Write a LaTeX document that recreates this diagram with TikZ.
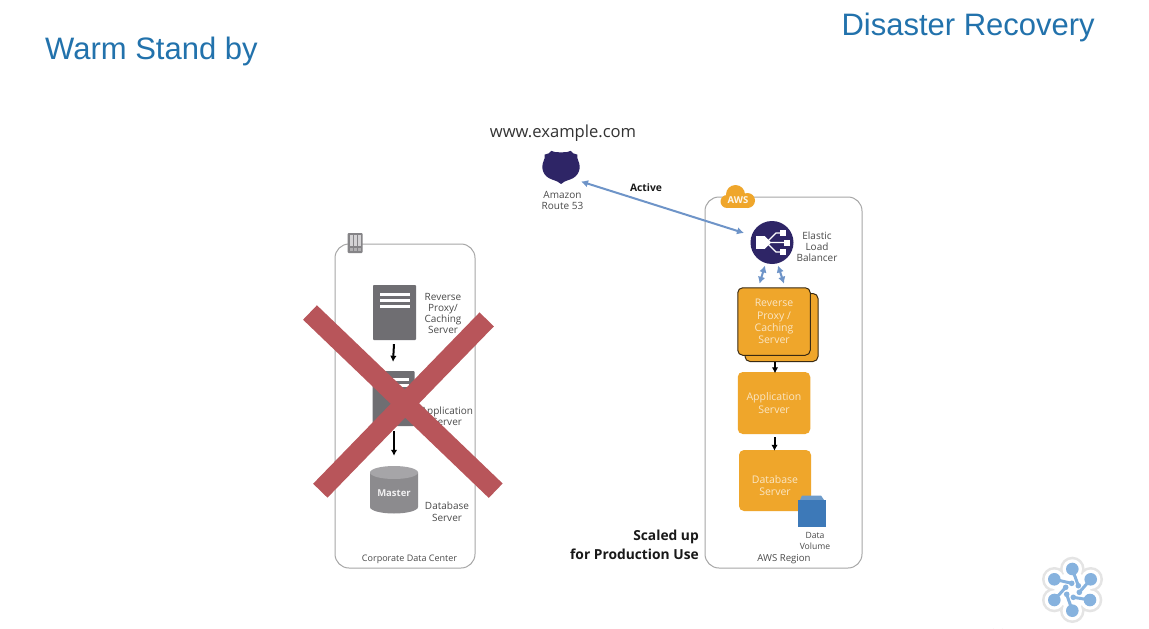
\documentclass[tikz,border=0pt]{standalone}
\usepackage{fontspec}
\setmainfont{Open Sans}
\newfontfamily\titlefont{Liberation Sans}
\usetikzlibrary{arrows.meta}
\definecolor{titleblue}{HTML}{2272AC}
\definecolor{boxline}{HTML}{A6A6A6}
\definecolor{greyicon}{HTML}{6F6E72}
\definecolor{labelgrey}{HTML}{4A4A4A}
\definecolor{awsorange}{HTML}{EFA62B}
\definecolor{orangeedge}{HTML}{3A2A12}
\definecolor{navy}{HTML}{2E2566}
\definecolor{linkblue}{HTML}{6E94C8}
\definecolor{crossred}{HTML}{B8555A}
\definecolor{volblue}{HTML}{3D79B8}
\definecolor{logoblue}{HTML}{86B2DE}
\definecolor{logohalo}{HTML}{E4E4E4}
\tikzset{
  x=1pt,y=-1pt,
  titletext/.style={font=\titlefont\fontsize{31}{34}\selectfont,text=titleblue,inner sep=0pt},
  smalllabel/.style={font=\fontsize{10}{11.2}\selectfont,text=labelgrey,align=center,inner sep=0pt},
  region/.style={draw=boxline,line width=1pt,fill=white,rounded corners=14pt,inner sep=0pt},
  servericon/.style={fill=greyicon,rounded corners=0.8pt,inner sep=0pt},
  orangebox/.style={fill=awsorange,rounded corners=5pt,inner sep=0pt,text=white!72!awsorange,align=center,font=\fontsize{10.5}{12.4}\selectfont},
  orangestack/.style={orangebox,draw=orangeedge,line width=1pt},
  flowarrow/.style={-{Latex[length=6pt,width=6.5pt]},line width=2pt,black},
  linkarrow/.style={{Latex[length=7pt,width=7.5pt]}-{Latex[length=7pt,width=7.5pt]},line width=2pt,linkblue},
  crossbar/.style={crossred,line width=20pt},
  boldlabel/.style={font=\bfseries\fontsize{13.8}{19.2}\selectfont,text=black!90,align=right,inner sep=0pt},
}
\begin{document}
\begin{tikzpicture}
\useasboundingbox (0,0) rectangle (1149,629);
\fill[white] (0,0) rectangle (1149,629);
% titles
\node[titletext,anchor=west] (warm) at (45,51.5) {Warm Stand by};
\node[titletext,anchor=east] (dr) at (1095,27.5) {Disaster Recovery};
% containers
\node[region,minimum width=140pt,minimum height=324pt] (corp) at (405,406) {};
\node[region,minimum width=157pt,minimum height=371pt] (awsreg) at (783.5,382.5) {};
\node[smalllabel,font=\fontsize{9}{11}\selectfont] (corplabel) at (409.5,559.5) {Corporate Data Center};
\node[smalllabel,font=\fontsize{9.6}{11}\selectfont] (awslabel) at (784,559.5) {AWS Region};
% building icon
\node[fill=greyicon!85!white,rounded corners=1pt,minimum width=15pt,minimum height=20pt,inner sep=0pt] (bldg) at (355,243) {};
\foreach \xx in {349.5,353.5,357.5}{
  \fill[white!70!greyicon] (\xx,235) rectangle +(3,11);
  \fill[white!45!greyicon] (\xx,248) rectangle +(3,2.5);
}
% corporate servers
\node[servericon,minimum width=43pt,minimum height=55pt] (proxy) at (394.5,312.5) {};
\foreach \yy in {292.5,298.5,304.5}{\fill[white] (379.5,\yy) rectangle (410,\yy+3.2);}
\node[smalllabel] (proxylabel) at (443,313.5) {Reverse\\Proxy/\\Caching\\Server};
\node[servericon,minimum width=42pt,minimum height=55pt] (app) at (393.5,398.5) {};
\foreach \yy in {378,384,390}{\fill[white] (378.5,\yy) rectangle (409,\yy+3.2);}
\node[smalllabel] (applabel) at (447,416) {Application\\Server};
% master cylinder
\fill[greyicon!80!white] (370,472.5) -- (370,507) arc[start angle=180,end angle=0,x radius=24,y radius=6.5] -- (418,472.5) -- cycle;
\fill[greyicon!62!white] (394,472.5) ellipse[x radius=24,y radius=6.5];
\node[inner sep=0pt,minimum width=48pt,minimum height=48pt] (master) at (394,490) {};
\node[font=\bfseries\fontsize{9.5}{12}\selectfont,text=white!90!greyicon,inner sep=0pt] (mastertext) at (394,493.5) {Master};
\node[smalllabel,font=\fontsize{10}{12}\selectfont] (dblabel) at (447,512) {Database\\Server};
\draw[flowarrow] ([shift={(-0.5,4)}]proxy.south) -- ([shift={(-0.5,-9)}]app.north);
\draw[flowarrow] ([shift={(0.5,5)}]app.south) -- ([shift={(0,-10)}]master.north);
% route 53
\fill[navy] (561,152.3) .. controls (558,152.6) and (554,152.2) .. (551.5,150.8)
  .. controls (550,153) and (547.5,154.3) .. (544.6,154.6)
  .. controls (545,157.5) and (544.6,159) .. (543.6,161)
  .. controls (540.5,168) and (543,176.5) .. (552,179.5)
  .. controls (556,180.8) and (559,182) .. (561,184)
  .. controls (563,182) and (566,180.8) .. (570,179.5)
  .. controls (579,176.5) and (581.5,168) .. (578.4,161)
  .. controls (577.4,159) and (577,157.5) .. (577.4,154.6)
  .. controls (574.5,154.3) and (572,153) .. (570.5,150.8)
  .. controls (568,152.2) and (564,152.6) .. (561,152.3) -- cycle;
\node[inner sep=0pt,minimum width=37pt,minimum height=33pt] (r53) at (561,167.5) {};
\node[smalllabel] (r53label) at (562.5,200.5) {Amazon\\Route 53};
\node[font=\fontsize{16.6}{18}\selectfont,text=black!80,inner sep=0pt] (www) at (563,133) {www.example.com};
% AWS badge
\fill[awsorange] (727,201.5) circle[radius=6.5];
\fill[awsorange] (735.5,194.5) circle[radius=9.5];
\fill[awsorange] (747.5,200.5) circle[radius=7.5];
\fill[awsorange] (727,195) rectangle (748,208);
\node[font=\bfseries\fontsize{9.5}{11}\selectfont,text=white!90!awsorange,inner sep=0pt] (awsbadge) at (738,200.5) {AWS};
% ELB
\node[circle,fill=navy,minimum size=43pt,inner sep=0pt] (elb) at (772,242.5) {};
\fill[white] (755.5,236) rectangle (765,249);
\fill[white] (764.5,236) -- (771,242.5) -- (764.5,249) -- cycle;
\draw[white,line width=1.3pt] (766,242.5) -- (785,242.5) (768,241) -- (776,233) -- (784,233) (768,244) -- (776,252) -- (784,252);
\fill[white] (780,230) rectangle +(6,6);
\fill[white] (783.5,239.5) rectangle +(6,6);
\fill[white] (780,249) rectangle +(6,6);
\node[smalllabel] (elblabel) at (817,247) {Elastic\\Load\\Balancer};
% orange stack
\node[orangestack,minimum width=73pt,minimum height=68pt] (proxyback) at (781.5,327.5) {};
\node[orangestack,minimum width=72.5pt,minimum height=67.5pt] (proxyaws) at (774,321.5) {Reverse\\Proxy /\\Caching\\Server};
\node[orangebox,minimum width=72.5pt,minimum height=62pt] (appaws) at (774,403) {Application\\Server};
\node[orangebox,minimum width=72pt,minimum height=61pt] (dbaws) at (775,480.5) {\vphantom{X}\\[-2pt]Database\\Server};
% volume
\fill[volblue!75!white] (800,500) -- (802,495.5) -- (821,495.5) -- (824,500) -- cycle;
\node[fill=volblue,minimum width=28.5pt,minimum height=27pt,inner sep=0pt] (vol) at (812,513.5) {};
\node[smalllabel,font=\fontsize{8.6}{10.8}\selectfont] (vollabel) at (815,541) {Data\\Volume};
% links
\draw[linkarrow] ([shift={(20,14)}]r53.center) -- ([shift={(-28,-9.5)}]elb.center);
\draw[linkarrow] ([shift={(-7,23)}]elb.center) -- ([shift={(-14.5,-3.5)}]proxyaws.north);
\draw[linkarrow] ([shift={(6,23)}]elb.center) -- ([shift={(10,-3.5)}]proxyaws.north);
\draw[flowarrow] ([shift={(1,0)}]proxyaws.south |- proxyback.south) -- ([shift={(1,1.5)}]appaws.north);
\draw[flowarrow] ([shift={(0.5,3)}]appaws.south) -- ([shift={(-0.5,1)}]dbaws.north);
\node[font=\bfseries\fontsize{10.3}{11}\selectfont,text=black!90,inner sep=0pt] (active) at (646,187.5) {Active};
\node[boldlabel,anchor=east] (scaled) at (699,544.5) {Scaled up\\for Production Use};
% red cross
\coordinate (xa) at (310,312.5);
\coordinate (xb) at (495.7,490.7);
\coordinate (xc) at (486.7,319.4);
\coordinate (xd) at (320.3,490.7);
\draw[crossbar] (xa) -- (xb);
\draw[crossbar] (xc) -- (xd);
% logo
\def\petals{1072.3/569/1078.3/585.7,1090.7/579.3/1079.3/592.3,1090/600/1073.3/597.3,1072.3/610.7/1066.7/594.3,1054.3/600/1065.7/587.3,1054.3/579.3/1071.7/583.3}
\foreach \a/\b/\c/\d in \petals{\fill[logohalo] (\a,\b) circle[radius=12.3];}
\fill[logohalo] (1072.3,590) circle[radius=20];
\foreach \a/\b/\c/\d in \petals{\fill[white] (\a,\b) circle[radius=9.7];}
\fill[white] (1072.3,590) circle[radius=18];
\foreach \a/\b/\c/\d in \petals{
  \fill[logoblue] (\a,\b) circle[radius=6.3];
  \draw[logoblue,line width=3pt,line cap=round] (\a,\b) -- (\c,\d);
  \fill[logoblue] (\c,\d) circle[radius=2.8];
}
% partly visible mark at lower edge
\draw[logohalo!85!black,line width=1pt] (993,629) arc[start angle=180,end angle=0,radius=5];
\end{tikzpicture}
\end{document}
